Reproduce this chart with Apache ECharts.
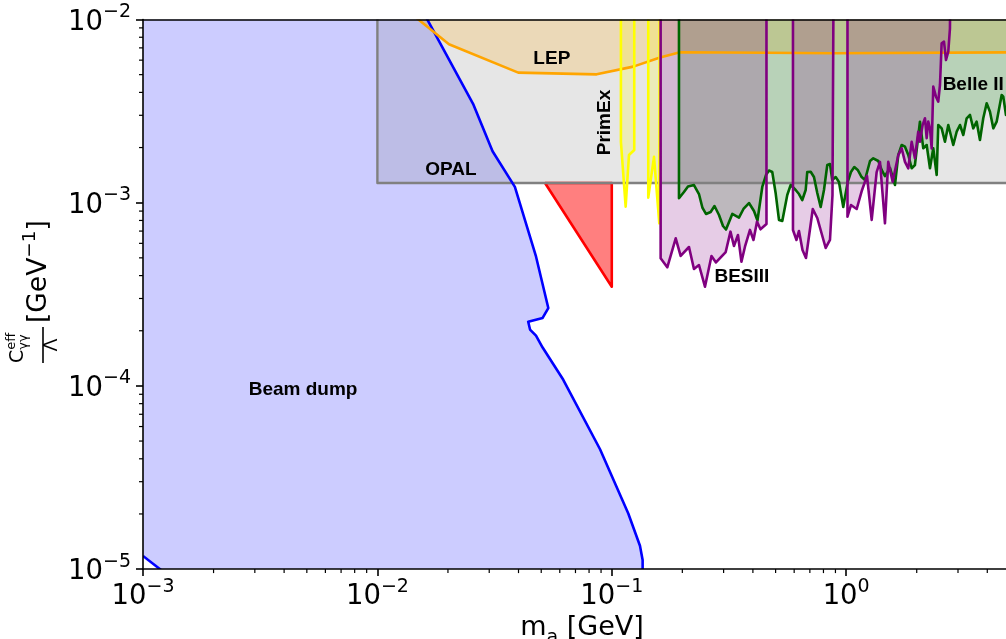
<!DOCTYPE html>
<html><head><meta charset="utf-8">
<script src="https://cdn.jsdelivr.net/npm/echarts/dist/echarts.min.js"></script>
<style>html,body{margin:0;padding:0;background:#fff}#c{width:1006px;height:639px}</style>
</head><body><div id="c"></div>
<script>
// ---------- axis ranges ----------
const X_MIN = 1e-3, X_MAX = 5, Y_MIN = 1e-5, Y_MAX = 1e-2;
const ABOVE = 0.1;          // a value above the plotted y-range (curve leaves the plot)
const X_RIGHT = 5.2;        // a value right of the plotted x-range

// ---------- minor tick positions (log axes) ----------
const MINOR_STEPS = [2, 3, 4, 5, 6, 7, 8, 9];
const X_DECADES = [1e-3, 1e-2, 1e-1, 1];
const Y_DECADES = [1e-5, 1e-4, 1e-3];

// ---------- data (m_a [GeV], C/Λ [GeV^-1]) ----------
const beamDumpCurve = [[0.0155,0.0113],[0.0257,3.43e-3],[0.0310,1.91e-3],[0.0386,1.22e-3],[0.0475,5.09e-4],
  [0.0536,2.66e-4],[0.0507,2.35e-4],[0.0440,2.24e-4],[0.0448,2.03e-4],[0.0475,1.88e-4],[0.0507,1.62e-4],
  [0.0621,1.08e-4],[0.0891,4.51e-5],[0.1176,2.01e-5],[0.1319,1.34e-5],[0.1354,1.12e-5],[0.1354,9.5e-6]];
const beamDumpLower = [[0.001,1.18e-5],[0.00123,9.6e-6]];

const opalMin = [0.01, 1.28e-3];   // OPAL box lower-left corner, extends to top/right

const lepCurve = [[0.0133,0.0113],[0.0202,7.32e-3],[0.0399,5.13e-3],[0.0862,5.02e-3],[0.1235,5.53e-3],
  [0.1606,6.20e-3],[0.1954,6.62e-3],[0.458,6.59e-3],[0.879,6.54e-3],[X_RIGHT,6.62e-3]];

const primexCurve = [[0.1094,ABOVE],[0.1094,2.15e-3],[0.1146,9.51e-4],[0.1184,1.82e-3],[0.1247,1.94e-3],[0.1247,ABOVE],
  [0.1431,ABOVE],[0.1431,1.065e-3],[0.1514,1.78e-3],[0.1595,7.72e-4],[0.1606,ABOVE]];

const redTriangle = [[0.0519,1.28e-3],[0.1,1.28e-3],[0.1,3.48e-4]];

const belle2Curve = [[0.1935,ABOVE],[0.1935,1.057e-3],[0.2032,1.144e-3],[0.2114,1.226e-3],[0.2242,1.249e-3],[0.2355,1.115e-3],
  [0.2438,9.36e-4],[0.2523,8.68e-4],[0.2642,8.90e-4],[0.2743,9.59e-4],[0.2867,8.57e-4],[0.2982,7.46e-4],[0.3071,7.14e-4],
  [0.3267,8.68e-4],[0.3488,8.30e-4],[0.3646,9.24e-4],[0.3849,9.96e-4],[0.4043,9.01e-4],[0.4184,8.00e-4],[0.4386,1.219e-3],
  [0.4548,1.416e-3],[0.4684,1.499e-3],[0.4838,1.471e-3],[0.5003,1.125e-3],[0.5168,8.05e-4],[0.5339,7.95e-4],[0.5607,1.102e-3],
  [0.5798,1.249e-3],[0.6089,1.173e-3],[0.6290,1.115e-3],[0.6497,1.034e-3],[0.6718,1.173e-3],[0.6823,1.471e-3],[0.7056,1.476e-3],
  [0.7288,1.381e-3],[0.7529,1.129e-3],[0.7785,9.47e-4],[0.8042,1.173e-3],[0.8307,1.606e-3],[0.8529,1.626e-3],[0.8724,1.330e-3],
  [0.9020,1.381e-3],[0.9318,1.297e-3],[0.9719,9.47e-4],[1.015,1.297e-3],[1.048,1.471e-3],[1.083,1.566e-3],[1.120,1.509e-3],
  [1.164,1.381e-3],[1.203,1.330e-3],[1.264,1.689e-3],[1.305,1.747e-3],[1.371,1.689e-3],[1.417,1.509e-3],[1.464,1.398e-3],
  [1.538,1.547e-3],[1.615,1.249e-3],[1.669,1.822e-3],[1.725,2.065e-3],[1.782,2.021e-3],[1.841,1.822e-3],[1.903,1.541e-3],
  [1.965,1.606e-3],[2.064,2.768e-3],[2.133,1.981e-3],[2.205,2.065e-3],[2.278,1.541e-3],[2.353,1.981e-3],[2.433,1.416e-3],
  [2.471,2.655e-3],[2.555,2.547e-3],[2.639,2.153e-3],[2.727,2.655e-3],[2.864,2.065e-3],[2.961,2.441e-3],[3.059,2.655e-3],
  [3.160,2.342e-3],[3.267,2.888e-3],[3.375,3.011e-3],[3.485,2.547e-3],[3.603,2.768e-3],[3.722,2.199e-3],[3.845,2.888e-3],
  [3.976,3.487e-3],[4.107,3.140e-3],[4.243,2.547e-3],[4.386,2.768e-3],[4.607,3.872e-3],[4.680,3.791e-3],[4.806,3.011e-3],
  [X_RIGHT,3.0e-3]];

const besCurve = [[0.1616,ABOVE],[0.1616,4.97e-4],[0.1725,4.44e-4],[0.1874,6.39e-4],[0.1967,5.12e-4],[0.2135,5.73e-4],
  [0.2242,4.35e-4],[0.2355,4.57e-4],[0.2498,3.48e-4],[0.2663,5.12e-4],[0.2783,4.72e-4],[0.3062,5.38e-4],[0.3209,6.95e-4],
  [0.3321,5.80e-4],[0.3454,6.66e-4],[0.3575,4.76e-4],[0.3700,5.75e-4],[0.3887,7.10e-4],[0.4023,6.26e-4],[0.4164,7.88e-4],
  [0.4309,7.16e-4],[0.4571,7.65e-4],[0.4571,ABOVE],[0.5930,ABOVE],[0.5930,7.10e-4],[0.6138,6.26e-4],[0.6290,7.01e-4],
  [0.6511,5.52e-4],[0.6738,4.99e-4],[0.7204,9.24e-4],[0.7529,8.25e-4],[0.8178,5.66e-4],[0.8529,6.26e-4],[0.8742,1.10e-3],
  [0.8898,ABOVE],[1.013,ABOVE],[1.013,8.39e-4],[1.048,9.71e-4],[1.109,9.24e-4],[1.168,1.17e-3],[1.227,1.40e-3],[1.285,8.05e-4],
  [1.349,1.47e-3],[1.394,1.67e-3],[1.464,7.72e-4],[1.512,1.67e-3],[1.579,1.30e-3],[1.669,1.82e-3],[1.725,1.98e-3],[1.782,1.67e-3],
  [1.841,1.54e-3],[1.903,2.15e-3],[1.965,1.75e-3],[2.030,2.44e-3],[2.064,2.15e-3],[2.120,2.66e-3],[2.169,2.89e-3],[2.205,2.25e-3],
  [2.240,2.77e-3],[2.278,2.55e-3],[2.316,1.98e-3],[2.353,4.30e-3],[2.416,3.79e-3],[2.471,3.56e-3],[2.513,4.39e-3],[2.555,7.42e-3],
  [2.614,7.57e-3],[2.666,6.01e-3],[2.727,6.67e-3],[2.772,8.95e-3],[2.819,ABOVE]];

// region labels: text, x, y, rotation (deg), alignment
const regionLabels = [
  ['Beam dump', 0.00482, 9.5e-5, 0, 'center'],
  ['OPAL', 0.0206, 1.52e-3, 0, 'center'],
  ['LEP', 0.0555, 6.07e-3, 0, 'center'],
  ['PrimEx', 0.0935, 2.74e-3, 90, 'center'],
  ['BESIII', 0.359, 3.95e-4, 0, 'center'],
  ['Belle II', 2.58, 4.39e-3, 0, 'left']
];

// ---------- build regions ----------
function upperArea(curve) {
  return curve.concat([[curve[curve.length - 1][0], ABOVE], [curve[0][0], ABOVE]]);
}
const beamArea = [[X_MIN, 0.0113]].concat(beamDumpCurve, beamDumpLower.slice().reverse());
const opalArea = [[opalMin[0], opalMin[1]], [X_RIGHT, opalMin[1]], [X_RIGHT, ABOVE], [opalMin[0], ABOVE]];
const opalLine = [[opalMin[0], ABOVE], [opalMin[0], opalMin[1]], [X_RIGHT, opalMin[1]]];

const R = {
  beam:   {area: beamArea, lines: [beamDumpCurve, beamDumpLower], stroke: '#0000ff', fill: 'rgba(0,0,255,0.2)', w: 2.6},
  opal:   {area: opalArea, lines: [opalLine], stroke: '#808080', fill: 'rgba(128,128,128,0.2)', w: 2.4},
  lep:    {area: upperArea(lepCurve), lines: [lepCurve], stroke: '#ffa500', fill: 'rgba(255,165,0,0.2)', w: 2.6},
  primex: {area: primexCurve, lines: [primexCurve], stroke: '#ffff00', fill: 'rgba(255,255,0,0.2)', w: 2.6},
  red:    {area: redTriangle, lines: [redTriangle.concat([redTriangle[0]])], stroke: '#ff0000', fill: 'rgba(255,0,0,0.5)', w: 2.6},
  belle:  {area: upperArea(belle2Curve), lines: [belle2Curve], stroke: '#006400', fill: 'rgba(0,128,0,0.2)', w: 2.6},
  bes:    {area: upperArea(besCurve), lines: [besCurve], stroke: '#800080', fill: 'rgba(128,0,128,0.2)', w: 2.6}
};
const FILL_ORDER = ['beam', 'opal', 'lep', 'primex', 'red', 'belle', 'bes'];
const LINE_ORDER = ['red', 'opal', 'beam', 'lep', 'primex', 'belle', 'bes'];

function pix(api, pts) { return pts.map(p => api.coord(p)); }

const FONT_TICK = 'DejaVu Sans';
function powLabel(v) {
  const e = Math.log10(v), r = Math.round(e);
  if (Math.abs(e - r) > 1e-6) return '';
  return '{a|10}{b|' + (r < 0 ? '\u2212' + (-r) : String(r)) + '}';
}
const tickRich = {
  a: {fontFamily: FONT_TICK, fontSize: 27.5, lineHeight: 34, verticalAlign: 'bottom', color: '#000'},
  b: {fontFamily: FONT_TICK, fontSize: 19, lineHeight: 19, verticalAlign: 'top', color: '#000'}
};

const chart = echarts.init(document.getElementById('c'), null, {renderer: 'canvas'});
chart.setOption({
  animation: false,
  backgroundColor: '#fff',
  grid: {left: 143, top: 19.5, width: 867, height: 549.6, containLabel: false, outerBoundsMode: 'none'},
  xAxis: [{
    type: 'log', logBase: 10, min: X_MIN, max: X_MAX, position: 'bottom', z: 10,
    axisLine: {show: true, lineStyle: {color: '#000', width: 1.6}},
    axisTick: {show: true, inside: false, length: 7, lineStyle: {color: '#000', width: 1.6}},
    axisLabel: {show: true, margin: 8, formatter: powLabel, rich: tickRich, showMinLabel: true, showMaxLabel: true},
    splitLine: {show: false}, minorTick: {show: false}
  }, {
    type: 'log', logBase: 10, min: X_MIN, max: X_MAX, position: 'top', z: 10,
    axisLine: {show: true, lineStyle: {color: '#000', width: 1.6}},
    axisTick: {show: false}, axisLabel: {show: false}, splitLine: {show: false}
  }],
  yAxis: [{
    type: 'log', logBase: 10, min: Y_MIN, max: Y_MAX, z: 10,
    axisLine: {show: true, lineStyle: {color: '#000', width: 1.6}},
    axisTick: {show: true, inside: false, length: 7, lineStyle: {color: '#000', width: 1.6}},
    axisLabel: {show: true, margin: 12, formatter: powLabel, rich: tickRich, showMinLabel: true, showMaxLabel: true},
    splitLine: {show: false}
  }],
  graphic: [
    {
      type: 'text', x: 582, y: 631, z: 20,
      style: {
        text: '{n|m}{s|a}{n| [GeV]}', align: 'center', verticalAlign: 'middle',
        rich: {
          n: {fontFamily: FONT_TICK, fontSize: 27, lineHeight: 33, verticalAlign: 'top', color: '#000'},
          s: {fontFamily: FONT_TICK, fontSize: 19, lineHeight: 19, verticalAlign: 'bottom', color: '#000'}
        }
      }
    },
    {
      type: 'group', x: 0, y: 363, rotation: Math.PI / 2, z: 20,
      children: [
        {type: 'text', x: 0, y: 18, style: {text: 'C', font: '19px "DejaVu Sans"', fill: '#000', align: 'left', verticalAlign: 'middle'}},
        {type: 'text', x: 13.3, y: 11.5, style: {text: 'eff', font: '13px "DejaVu Sans"', fill: '#000', align: 'left', verticalAlign: 'middle'}},
        {type: 'text', x: 13.3, y: 23.5, style: {text: 'γγ', font: '13px "DejaVu Sans"', fill: '#000', align: 'left', verticalAlign: 'middle'}},
        {type: 'rect', shape: {x: 0, y: 42.2, width: 36, height: 1.6}, style: {fill: '#000'}},
        {type: 'text', x: 18, y: 52, style: {text: 'Λ', font: '19px "DejaVu Sans"', fill: '#000', align: 'center', verticalAlign: 'middle'}},
        {type: 'text', x: 40, y: 37, style: {
          text: '{n|[GeV}{s|\u22121}{n|]}', align: 'left', verticalAlign: 'middle',
          rich: {
            n: {fontFamily: FONT_TICK, fontSize: 26.5, lineHeight: 32, verticalAlign: 'bottom', color: '#000'},
            s: {fontFamily: FONT_TICK, fontSize: 18.5, lineHeight: 19, verticalAlign: 'top', color: '#000'}
          }
        }}
      ]
    }
  ],
  series: [
    {
      type: 'custom', name: 'fills', coordinateSystem: 'cartesian2d', clip: true, silent: true, z: 2,
      data: [[X_MIN, Y_MIN]],
      renderItem: (params, api) => ({
        type: 'group',
        children: FILL_ORDER.map(k => ({
          type: 'polygon', shape: {points: pix(api, R[k].area)},
          style: {fill: R[k].fill, lineWidth: 0}
        }))
      })
    },
    {
      type: 'custom', name: 'lines', coordinateSystem: 'cartesian2d', clip: true, silent: true, z: 3,
      data: [[X_MIN, Y_MIN]],
      renderItem: (params, api) => {
        const children = [];
        LINE_ORDER.forEach(k => R[k].lines.forEach(l => children.push({
          type: 'polyline', shape: {points: pix(api, l)},
          style: {stroke: R[k].stroke, lineWidth: R[k].w, fill: 'none', lineJoin: 'round'}
        })));
        return {type: 'group', children};
      }
    },
    {
      type: 'custom', name: 'labels', coordinateSystem: 'cartesian2d', clip: false, silent: true, z: 5,
      data: regionLabels.map(l => [l[1], l[2]]),
      renderItem: (params, api) => {
        const l = regionLabels[params.dataIndex];
        const p = api.coord([l[1], l[2]]);
        return {
          type: 'text', x: p[0], y: p[1], rotation: l[3] * Math.PI / 180,
          style: {text: l[0], font: 'bold 19px "Liberation Sans", Arial, sans-serif', fill: '#000',
                  align: l[4], verticalAlign: 'middle'}
        };
      }
    },
    {
      type: 'custom', name: 'minorTicks', coordinateSystem: 'cartesian2d', clip: false, silent: true, z: 10,
      data: [[X_MIN, Y_MIN]],
      renderItem: (params, api) => {
        const children = [];
        X_DECADES.forEach(d => MINOR_STEPS.forEach(k => {
          const v = k * d; if (v >= X_MAX) return;
          const p = api.coord([v, Y_MIN]);
          children.push({type: 'line', shape: {x1: p[0], y1: p[1], x2: p[0], y2: p[1] + 4}, style: {stroke: '#000', lineWidth: 1.2}});
        }));
        Y_DECADES.forEach(d => MINOR_STEPS.forEach(k => {
          const v = k * d; if (v >= Y_MAX) return;
          const p = api.coord([X_MIN, v]);
          children.push({type: 'line', shape: {x1: p[0] - 4, y1: p[1], x2: p[0], y2: p[1]}, style: {stroke: '#000', lineWidth: 1.2}});
        }));
        return {type: 'group', children};
      }
    }
  ]
});
</script>
</body></html>
